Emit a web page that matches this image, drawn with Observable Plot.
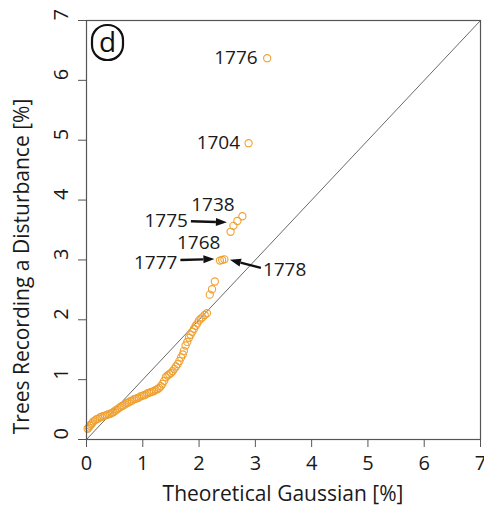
<!DOCTYPE html>
<html>
<head>
<meta charset="utf-8">
<script src="https://cdn.jsdelivr.net/npm/d3@7"></script>
<script src="https://cdn.jsdelivr.net/npm/@observablehq/plot@0.6"></script>
<style>
  html, body { margin: 0; padding: 0; background: #fff; }
  svg { display: block; }
</style>
</head>
<body>
<div id="chart"></div>
<script>
// ---- data ----
const axisDomain = [0, 7];
const xTicks = [0, 1, 2, 3, 4, 5, 6, 7];
const yTicks = [0, 1, 2, 3, 4, 5, 6, 7];
const xTitle = "Theoretical Gaussian [%]";
const yTitle = "Trees Recording a Disturbance [%]";
const panelLetter = "d";

const theoretical = [0.02,0.04,0.06,0.08,0.10,0.12,0.15,0.18,0.21,0.24,0.27,0.30,0.33,0.36,0.39,0.42,0.45,0.48,0.51,0.54,0.57,0.60,0.63,0.66,0.69,0.72,0.75,0.78,0.81,0.84,0.87,0.90,0.93,0.96,0.99,1.02,1.05,1.08,1.11,1.14,1.17,1.20,1.23,1.26,1.29,1.32,1.35,1.38,1.41,1.44,1.47,1.50,1.53,1.56,1.59,1.62,1.65,1.68,1.71,1.73,1.76,1.79,1.82,1.85,1.88,1.91,1.94,1.97,2.00,2.03,2.06,2.10,2.14,2.19,2.23,2.28,2.37,2.41,2.45,2.56,2.61,2.68,2.77,2.88,3.21];
const observed    = [0.18,0.20,0.23,0.25,0.27,0.30,0.32,0.34,0.35,0.37,0.38,0.39,0.40,0.41,0.42,0.43,0.44,0.46,0.48,0.50,0.52,0.54,0.56,0.57,0.59,0.61,0.62,0.64,0.65,0.67,0.68,0.69,0.70,0.72,0.73,0.74,0.75,0.77,0.78,0.79,0.80,0.81,0.83,0.84,0.86,0.89,0.93,0.98,1.04,1.07,1.09,1.11,1.14,1.18,1.22,1.26,1.31,1.37,1.42,1.48,1.57,1.63,1.70,1.75,1.80,1.85,1.90,1.94,1.99,2.02,2.04,2.08,2.11,2.42,2.51,2.64,2.99,3.00,3.01,3.47,3.57,3.65,3.73,4.95,6.37];

// annotated years and the points (theoretical, observed) they refer to
const annotYears = ["1776", "1704", "1738", "1775", "1768", "1777", "1778"];
const annotX     = [3.21, 2.88, 2.77, 2.61, 2.41, 2.37, 2.45];
const annotY     = [6.37, 4.95, 3.73, 3.57, 3.00, 2.99, 3.01];

const points = theoretical.map((x, i) => ({x, y: observed[i]}));
const annots = annotYears.map((t, i) => ({t, x: annotX[i], y: annotY[i]}));
const identity = axisDomain.map(v => ({x: v, y: v}));

const FONT = "Open Sans";
const orange = "#F0A030";
const ink = "#1a1a1a";

const plot = Plot.plot({
  width: 484,
  height: 507,
  marginLeft: 86,
  marginRight: 4,
  marginTop: 20,
  marginBottom: 68,
  x: {domain: axisDomain},
  y: {domain: axisDomain},
  style: {fontFamily: FONT, fontSize: "20px", color: ink, background: "#fff", overflow: "visible"},
  marks: [
    Plot.line(identity, {x: "x", y: "y", stroke: "#6a6a6a", strokeWidth: 1}),
    Plot.dot(points, {x: "x", y: "y", r: 3.6, stroke: orange, strokeWidth: 1.1, fill: "none"}),
    Plot.frame({stroke: "#555", strokeWidth: 1.2}),
    Plot.axisX({ticks: xTicks, tickSize: 8, tickPadding: 8, tickFormat: d3.format("d"), label: null, fontSize: 20, stroke: "#555"}),
    Plot.axisY({ticks: yTicks, tickSize: 8, tickFormat: () => "", label: null, stroke: "#555"}),
    Plot.text(yTicks, {y: d => d, text: d => String(d), frameAnchor: "left", dx: -25, rotate: -90, fontSize: 20, fill: ink})
  ]
});

document.getElementById("chart").appendChild(plot);

const sx = plot.scale("x"), sy = plot.scale("y");
const svg = d3.select(plot);
const fx0 = sx.range[0], fx1 = sx.range[1], fyTop = sy.range[1], fyBot = sy.range[0];

// ---- axis titles ----
svg.append("text").attr("x", (fx0 + fx1) / 2).attr("y", fyBot + 55).attr("dy", "0.35em")
  .attr("text-anchor", "middle").attr("font-family", FONT).attr("font-size", 21).attr("fill", ink)
  .text(xTitle);
svg.append("text").attr("transform", `translate(${fx0 - 64},${(fyTop + fyBot) / 2 + 37}) rotate(-90)`)
  .attr("dy", "0.35em").attr("text-anchor", "middle").attr("font-family", FONT).attr("font-size", 21)
  .attr("fill", ink).text(yTitle);

// ---- annotations (positioned from the data through the plot's scales) ----
const g = svg.append("g").attr("font-family", FONT).attr("font-size", 19).attr("fill", ink);
function px(a) { return [sx.apply(a.x), sy.apply(a.y)]; }
function label(a, dx, dy, anchor) {
  const [x, y] = px(a);
  g.append("text").attr("x", x + dx).attr("y", y + dy).attr("dy", "0.35em")
    .attr("text-anchor", anchor).text(a.t);
}
function arrow(a, x0, y0, x1, y1) {
  const [x, y] = px(a);
  const ax = x + x0, ay = y + y0, bx = x + x1, by = y + y1;
  const ang = Math.atan2(by - ay, bx - ax);
  const L = 11, W = 4;
  const hx = bx - L * Math.cos(ang), hy = by - L * Math.sin(ang);
  g.append("line").attr("x1", ax).attr("y1", ay).attr("x2", hx).attr("y2", hy)
    .attr("stroke", "#111").attr("stroke-width", 2.4);
  g.append("path")
    .attr("d", `M${bx},${by}L${hx - W * Math.sin(ang)},${hy + W * Math.cos(ang)}L${hx + W * Math.sin(ang)},${hy - W * Math.cos(ang)}Z`)
    .attr("fill", "#111");
}
const A = Object.fromEntries(annots.map(a => [a.t, a]));
label(A["1776"], -9, 0, "end");
label(A["1704"], -8, 0, "end");
label(A["1738"], -29, -11, "middle");
label(A["1775"], -45, -5, "end");
arrow(A["1775"], -42, -4, -6, -3);
label(A["1768"], -23, -17, "middle");
label(A["1777"], -42, 2, "end");
arrow(A["1777"], -39, 0, -5, -1);
label(A["1778"], 39, 11, "start");
arrow(A["1778"], 37, 9, 6, 1);

// panel letter badge
svg.append("rect").attr("x", fx0 + 6).attr("y", fyTop + 5).attr("width", 31).attr("height", 35)
  .attr("rx", 15).attr("ry", 15).attr("fill", "#fff").attr("stroke", "#111").attr("stroke-width", 2.2);
svg.append("text").attr("x", fx0 + 21.5).attr("y", fyTop + 22.5).attr("dy", "0.35em")
  .attr("text-anchor", "middle").attr("font-family", FONT).attr("font-size", 28)
  .attr("fill", "#111").text(panelLetter);
</script>
</body>
</html>
